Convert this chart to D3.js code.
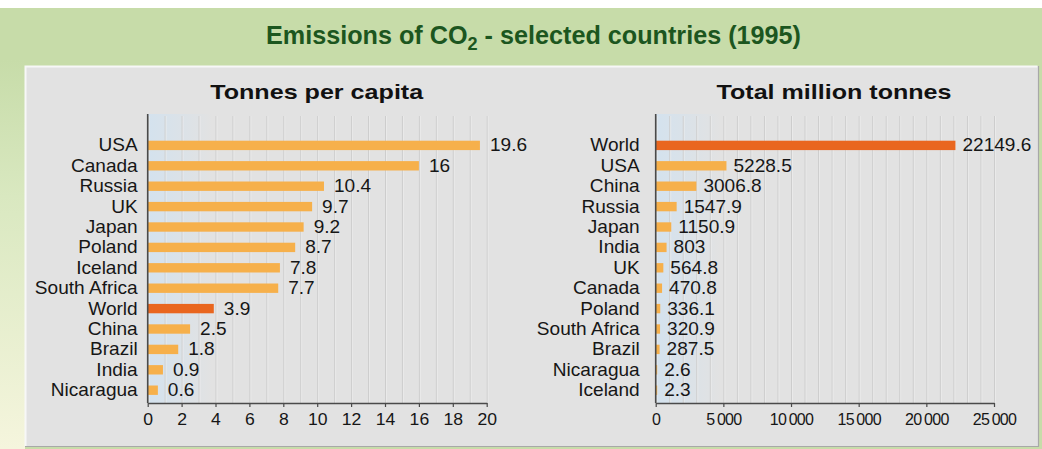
<!DOCTYPE html>
<html><head><meta charset="utf-8">
<script src="https://cdn.jsdelivr.net/npm/d3@7"></script>
<style>
body{margin:0;background:#fff}
svg{display:block}
text{font-family:"Liberation Sans",Arial,Helvetica,sans-serif}
</style>
</head><body>
<svg id="c" width="1042" height="449"></svg>
<script>
// ---------- data ----------
const perCapitaCountries = ["USA","Canada","Russia","UK","Japan","Poland","Iceland","South Africa","World","China","Brazil","India","Nicaragua"];
const perCapitaValues    = [19.6,16,10.4,9.7,9.2,8.7,7.8,7.7,3.9,2.5,1.8,0.9,0.6];
const perCapitaTicks     = [0,2,4,6,8,10,12,14,16,18,20];
const perCapitaTickLabels= ["0","2","4","6","8","10","12","14","16","18","20"];

const totalCountries = ["World","USA","China","Russia","Japan","India","UK","Canada","Poland","South Africa","Brazil","Nicaragua","Iceland"];
const totalValues    = [22149.6,5228.5,3006.8,1547.9,1150.9,803,564.8,470.8,336.1,320.9,287.5,2.6,2.3];
const totalTicks     = [0,5000,10000,15000,20000,25000];
const totalTickLabels= ["0","5\u2009000","10\u2009000","15\u2009000","20\u2009000","25\u2009000"];

const titleMain = "Emissions of CO";
const titleSub = "2";
const titleRest = " - selected countries (1995)";
const subtitles = ["Tonnes per capita","Total million tonnes"];

// ---------- styles ----------
const C = {
  green:"#c7dca9", title:"#1c561f", panel:"#e2e2e2",
  bar:"#f6b04b", world:"#e9661f", grid:"#cdcdcd", axis:"#4a4a4a", text:"#161616"
};
const SX = 1.09; // horizontal stretch of labels

const svg = d3.select("#c");
const defs = svg.append("defs");

// background
svg.append("rect").attr("width",1042).attr("height",449).attr("fill","#ffffff");
svg.append("rect").attr("x",0).attr("y",8).attr("width",1042).attr("height",441).attr("fill",C.green);
const lg = defs.append("linearGradient").attr("id","leftg").attr("x1",0).attr("y1",0).attr("x2",0).attr("y2",1);
lg.append("stop").attr("offset","0%").attr("stop-color",C.green);
lg.append("stop").attr("offset","35%").attr("stop-color","#d9e8c0");
lg.append("stop").attr("offset","100%").attr("stop-color","#f5f5dd");
svg.append("rect").attr("x",0).attr("y",60).attr("width",25).attr("height",389).attr("fill","url(#leftg)");

// panel
svg.append("rect").attr("x",25).attr("y",66).attr("width",1013).attr("height",381)
  .attr("fill",C.panel);
svg.append("path").attr("d","M25.5,446.5 V66.5 H1037.5").attr("fill","none").attr("stroke","#f7f7f7").attr("stroke-width",2);
svg.append("path").attr("d","M25,446.5 H1038.5 V66").attr("fill","none").attr("stroke","#a8a8a8").attr("stroke-width",1.2);

// title
const tt = svg.append("text").attr("x",533.5).attr("y",44).attr("text-anchor","middle")
  .attr("font-size",25).attr("font-weight","bold").attr("fill",C.title)
  .attr("textLength",535).attr("lengthAdjust","spacingAndGlyphs");
tt.append("tspan").text(titleMain);
tt.append("tspan").attr("font-size",18).attr("dy",6).text(titleSub);
tt.append("tspan").attr("dy",-6).text(titleRest);

// blue glow gradient
const bg = defs.append("linearGradient").attr("id","glow").attr("x1",0).attr("y1",0).attr("x2",1).attr("y2",0);
bg.append("stop").attr("offset","0%").attr("stop-color","#cfe2f2").attr("stop-opacity",0.75);
bg.append("stop").attr("offset","100%").attr("stop-color","#cfe2f2").attr("stop-opacity",0);

function stretchedText(g, x, y, txt, opts){
  return g.append("text")
    .attr("transform",`translate(${x},${y}) scale(${opts.sx||SX},1)`)
    .attr("text-anchor",opts.anchor||"start")
    .attr("font-size",opts.size||17.5)
    .attr("fill",C.text)
    .text(txt);
}

function drawChart(cfg){
  const g = svg.append("g");
  const x = d3.scaleLinear().domain(cfg.domain).range([cfg.x0,cfg.x1]);
  const y = d3.scaleBand().domain(cfg.cats).range([135.2,400.4]).paddingInner(0.54).paddingOuter(0.27);
  const top = 114, bottom = 403;

  // glow
  g.append("rect").attr("x",cfg.x0).attr("y",top).attr("width",65).attr("height",bottom-top).attr("fill","url(#glow)");

  // gridlines
  const grid = d3.range(cfg.domain[0], cfg.domain[1]+cfg.gridStep/2, cfg.gridStep);
  g.selectAll("line.grid").data(grid).join("line")
    .attr("x1",d=>x(d)+0.5).attr("x2",d=>x(d)+0.5)
    .attr("y1",top+2).attr("y2",bottom)
    .attr("stroke",C.grid).attr("stroke-width",1);
  g.selectAll("line.gridh").data(grid).join("line")
    .attr("x1",d=>x(d)+1.5).attr("x2",d=>x(d)+1.5)
    .attr("y1",top+2).attr("y2",bottom)
    .attr("stroke","#f0f0f0").attr("stroke-width",1).attr("opacity",0.6);

  // bars
  g.selectAll("rect.bar").data(cfg.vals).join("rect")
    .attr("x",x(0)).attr("y",(d,i)=>y(cfg.cats[i]))
    .attr("width",d=>Math.max(x(d)-x(0),1.5)).attr("height",y.bandwidth())
    .attr("fill",(d,i)=>cfg.cats[i]==="World"?C.world:C.bar);

  // value labels
  cfg.vals.forEach((v,i)=>{
    stretchedText(g, Math.max(x(v),x(0)+1.5)+cfg.valGap, y(cfg.cats[i])+y.bandwidth()/2+6, String(v), {});
  });
  // category labels
  cfg.cats.forEach((c,i)=>{
    stretchedText(g, cfg.x0-cfg.catGap, y(c)+y.bandwidth()/2+6, c, {anchor:"end"});
  });

  // y axis line
  g.append("line").attr("x1",cfg.x0).attr("x2",cfg.x0).attr("y1",top).attr("y2",bottom)
    .attr("stroke",C.axis).attr("stroke-width",1.6);

  // x axis
  const ax = d3.axisBottom(x).tickValues(cfg.ticks).tickFormat((d,i)=>cfg.tickLabels[i])
    .tickSize(4).tickSizeOuter(0).tickPadding(7);
  const axg = g.append("g").attr("transform",`translate(0,${bottom})`).call(ax);
  axg.select(".domain").attr("stroke",C.axis).attr("stroke-width",1.4);
  axg.selectAll(".tick line").attr("stroke",C.axis).attr("stroke-width",1.2);
  axg.selectAll(".tick text").attr("font-size",cfg.tickSize).attr("fill",C.text)
    .attr("font-family","'Liberation Sans',Arial,sans-serif")
    .attr("letter-spacing",cfg.tickLS)
    .attr("transform",`scale(${cfg.tickSX},1)`);

  // subtitle
  g.append("text").attr("x",cfg.subX).attr("y",99).attr("text-anchor","middle")
    .attr("font-size",21).attr("font-weight","bold").attr("fill","#111")
    .attr("textLength",cfg.subW).attr("lengthAdjust","spacingAndGlyphs")
    .text(cfg.subtitle);
}

drawChart({cats:perCapitaCountries, vals:perCapitaValues, domain:[0,20], x0:147.7, x1:486.7,
  gridStep:1, ticks:perCapitaTicks, tickLabels:perCapitaTickLabels, valGap:10, catGap:10,
  tickSize:16, tickSX:1.1, tickLS:0, subtitle:subtitles[0], subX:316.7, subW:213});
drawChart({cats:totalCountries, vals:totalValues, domain:[0,25000], x0:655.7, x1:994,
  gridStep:1000, ticks:totalTicks, tickLabels:totalTickLabels, valGap:7, catGap:16,
  tickSize:16, tickSX:1, tickLS:-0.7, subtitle:subtitles[1], subX:834, subW:235});
</script>
</body></html>
